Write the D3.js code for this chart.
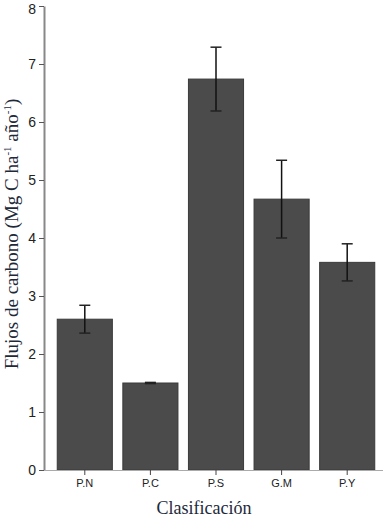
<!DOCTYPE html>
<html>
<head>
<meta charset="utf-8">
<script src="https://cdn.jsdelivr.net/npm/d3@7"></script>
<style>
    body { margin: 0; background: #fff; }
</style>
</head>
<body>
<script>
// chart data
const categories = ['P.N', 'P.C', 'P.S', 'G.M', 'P.Y'];
const fluxValues = [2.6, 1.5, 6.74, 4.67, 3.58];
const fluxErrors = [0.24, 0.01, 0.55, 0.67, 0.32];
const yTicks = [0, 1, 2, 3, 4, 5, 6, 7, 8];

drawBarChart();

function drawBarChart()
{
    const svgWidth = 383;
    const svgHeight = 517;

    const svg = d3.select('body')
        .append('svg')
        .attr('width', svgWidth)
        .attr('height', svgHeight);

    const data = categories.map((c, i) => ({ cat: c, value: fluxValues[i], err: fluxErrors[i] }));

    const x = d3.scaleBand()
        .domain(categories)
        .range([52, 380])
        .paddingInner(0.16)
        .paddingOuter(0.08);

    const y = d3.scaleLinear()
        .domain([0, 8])
        .range([470, 6]);

    // bars
    svg.append('g')
        .selectAll('rect')
        .data(data)
        .enter()
        .append('rect')
        .attr('x', d => x(d.cat))
        .attr('y', d => y(d.value))
        .attr('width', x.bandwidth())
        .attr('height', d => y(0) - y(d.value))
        .attr('fill', '#4b4b4b')
        .attr('stroke', '#3a3a3a')
        .attr('stroke-width', 1);

    // error bars
    const capHalf = 5.5;
    const err = svg.append('g')
        .selectAll('g')
        .data(data)
        .enter()
        .append('g')
        .attr('transform', d => `translate(${x(d.cat) + x.bandwidth() / 2},0)`);

    err.append('line')
        .attr('y1', d => y(d.value + d.err))
        .attr('y2', d => y(d.value - d.err))
        .attr('stroke', '#111')
        .attr('stroke-width', 1.5);

    err.append('line')
        .attr('x1', -capHalf).attr('x2', capHalf)
        .attr('y1', d => y(d.value + d.err))
        .attr('y2', d => y(d.value + d.err))
        .attr('stroke', '#222')
        .attr('stroke-width', 1.5);

    err.append('line')
        .attr('x1', -capHalf).attr('x2', capHalf)
        .attr('y1', d => y(d.value - d.err))
        .attr('y2', d => y(d.value - d.err))
        .attr('stroke', '#222')
        .attr('stroke-width', 1.5);

    // y axis
    const yAxis = svg.append('g')
        .attr('transform', 'translate(44,0)')
        .call(d3.axisLeft(y).tickValues(yTicks).tickSize(5).tickSizeOuter(0).tickFormat(d3.format('d')));
    yAxis.select('.domain').attr('stroke', '#888').attr('stroke-width', 2);
    yAxis.selectAll('.tick line').attr('stroke', '#555');
    yAxis.selectAll('.tick text')
        .attr('x', -8)
        .attr('fill', '#222')
        .style('font-family', 'Liberation Sans, Arial, sans-serif')
        .style('font-size', '14px');
    // keep the top label inside the picture
    yAxis.selectAll('.tick text').filter(d => d === 8).attr('dy', '0.5em');

    // x axis
    const xAxis = svg.append('g')
        .attr('transform', 'translate(0,470)')
        .call(d3.axisBottom(x).tickSize(5).tickSizeOuter(0));
    xAxis.select('.domain').attr('d', 'M44,0.5H383').attr('stroke', '#aaa');
    xAxis.selectAll('.tick line').attr('stroke', '#444');
    xAxis.selectAll('.tick text')
        .attr('y', 9)
        .attr('fill', '#222')
        .style('font-family', 'Liberation Sans, Arial, sans-serif')
        .style('font-size', '11px');

    // axis titles
    svg.append('text')
        .attr('x', 204)
        .attr('y', 514)
        .attr('text-anchor', 'middle')
        .attr('fill', '#1e2a3a')
        .style('font-family', 'Liberation Serif, Times New Roman, serif')
        .style('font-size', '18px')
        .text('Clasificación');

    const yTitle = svg.append('text')
        .attr('transform', 'translate(18,234) rotate(-90)')
        .attr('text-anchor', 'middle')
        .attr('fill', '#1e2a3a')
        .style('font-family', 'Liberation Serif, Times New Roman, serif')
        .style('font-size', '19px');
    yTitle.append('tspan').text('Flujos de carbono (Mg C ha');
    yTitle.append('tspan').attr('dy', -7).style('font-size', '11px').text('-1');
    yTitle.append('tspan').attr('dy', 7).text(' año');
    yTitle.append('tspan').attr('dy', -7).style('font-size', '11px').text('-1');
    yTitle.append('tspan').attr('dy', 7).text(')');
}
</script>
</body>
</html>
